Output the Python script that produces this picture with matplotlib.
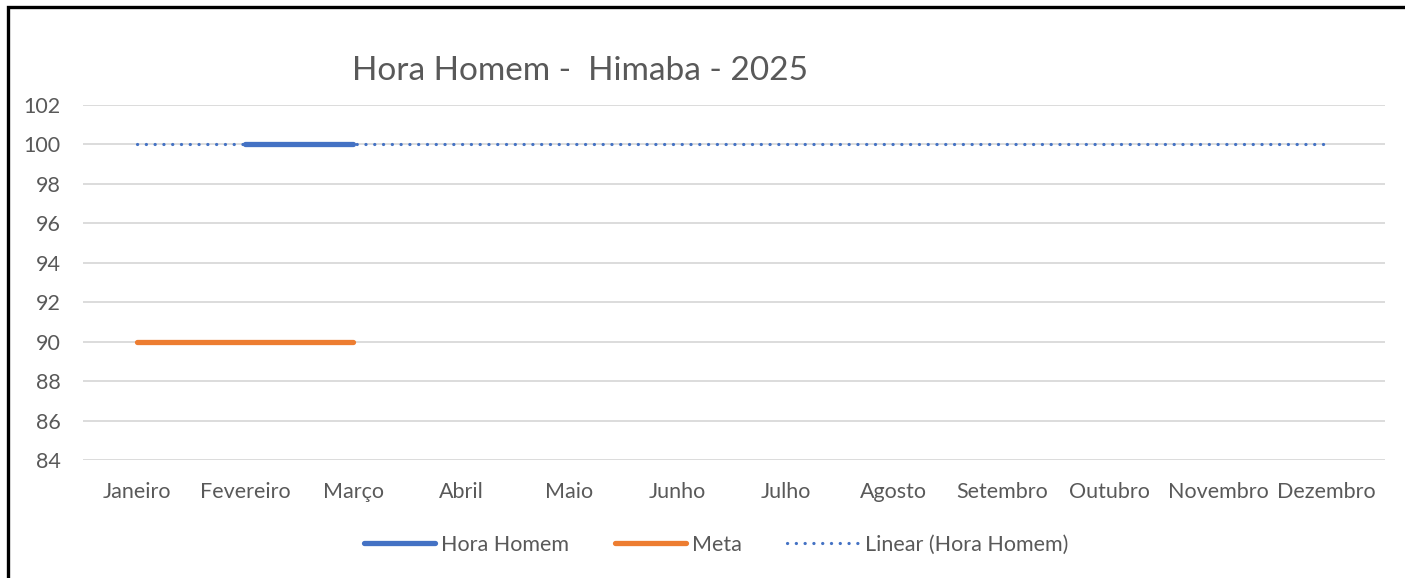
import numpy as np
import matplotlib
matplotlib.use("Agg")
import matplotlib.pyplot as plt
from matplotlib.patches import Rectangle

months = ["Janeiro", "Fevereiro", "Março", "Abril", "Maio", "Junho", "Julho",
          "Agosto", "Setembro", "Outubro", "Novembro", "Dezembro"]
hora_homem = [np.nan, 100, 100] + [np.nan] * 9
meta = [90, 90, 90] + [np.nan] * 9
title = "Hora Homem -  Himaba - 2025"
yticks = list(range(84, 103, 2))

plt.rcParams['font.family'] = ['Lato', 'DejaVu Sans']
txt = '#595959'

W, H = 1405, 578
fig = plt.figure(figsize=(W / 100, H / 100), dpi=100)
ax = fig.add_axes([83 / W, 1 - 460 / H, (1385 - 83) / W, (460 - 105) / H])

x = np.arange(len(months))
hh = np.array(hora_homem, dtype=float)
m = ~np.isnan(hh)
coef = np.polyfit(x[m], hh[m], 1)
trend = np.polyval(coef, x)

ax.plot(x, hh, color='#4472C4', lw=3.8, solid_capstyle='round', label='Hora Homem', zorder=3)
ax.plot(x, meta, color='#ED7D31', lw=3.8, solid_capstyle='round', label='Meta', zorder=3)
ax.plot(x, trend, color='#4472C4', lw=2.3, linestyle=(0, (0.05, 2.7)),
        dash_capstyle='round', label='Linear (Hora Homem)', zorder=2)

ax.set_xlim(-0.4996, 11.546)
ax.set_ylim(84, 102)
ax.set_yticks(yticks)
ax.set_xticks(x)
ax.set_xticklabels(months)
ax.tick_params(length=0, labelsize=15.5, colors=txt)
ax.tick_params(axis='x', pad=16)
ax.tick_params(axis='y', pad=16)
for s in ax.spines.values():
    s.set_visible(False)
ax.grid(axis='y', color='#D9D9D9', lw=1.3)
ax.set_axisbelow(True)

fig.text(352 / W, 1 - 80 / H, title, fontsize=24, color=txt, ha='left', va='baseline')

leg = fig.legend(loc='center', bbox_to_anchor=(716 / W, 1 - 545 / H), ncol=3,
                 frameon=False, fontsize=15.5, handlelength=3.3, columnspacing=2.1,
                 handletextpad=0.3)
for t in leg.get_texts():
    t.set_color(txt)

fig.patches.append(Rectangle((8 / W, -0.1), 1.2, 1 - 7 / H + 0.1, transform=fig.transFigure,
                             fill=False, edgecolor='black', lw=2.4, zorder=10))

fig.savefig('out.png', dpi=100)
